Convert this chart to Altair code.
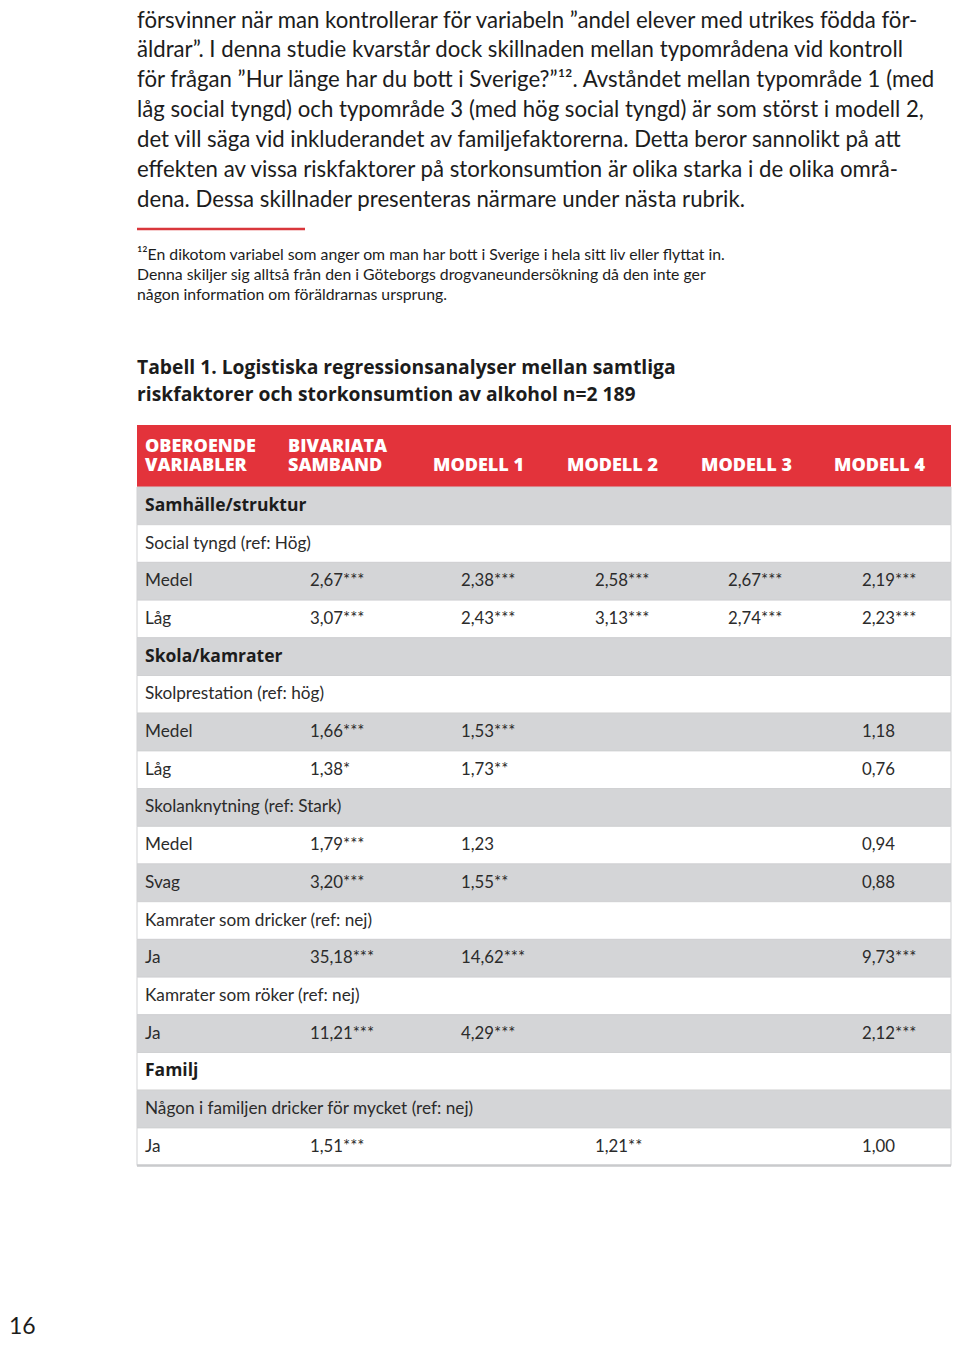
import altair as alt
import pandas as pd

# ---------------- data ----------------
body_lines = [
    "försvinner när man kontrollerar för variabeln ”andel elever med utrikes födda för-",
    "äldrar”. I denna studie kvarstår dock skillnaden mellan typområdena vid kontroll",
    "för frågan ”Hur länge har du bott i Sverige?”¹². Avståndet mellan typområde 1 (med",
    "låg social tyngd) och typområde 3 (med hög social tyngd) är som störst i modell 2,",
    "det vill säga vid inkluderandet av familjefaktorerna. Detta beror sannolikt på att",
    "effekten av vissa riskfaktorer på storkonsumtion är olika starka i de olika områ-",
    "dena. Dessa skillnader presenteras närmare under nästa rubrik.",
]
footnote_lines = [
    "¹²En dikotom variabel som anger om man har bott i Sverige i hela sitt liv eller flyttat in.",
    "Denna skiljer sig alltså från den i Göteborgs drogvaneundersökning då den inte ger",
    "någon information om föräldrarnas ursprung.",
]
title_lines = [
    "Tabell 1. Logistiska regressionsanalyser mellan samtliga",
    "riskfaktorer och storkonsumtion av alkohol n=2 189",
]
header_top = ["OBEROENDE", "BIVARIATA", "", "", "", ""]
header_bottom = ["VARIABLER", "SAMBAND", "MODELL 1", "MODELL 2", "MODELL 3", "MODELL 4"]

row_labels = [
    "Samhälle/struktur", "Social tyngd (ref: Hög)", "Medel", "Låg",
    "Skola/kamrater", "Skolprestation (ref: hög)", "Medel", "Låg",
    "Skolanknytning (ref: Stark)", "Medel", "Svag",
    "Kamrater som dricker (ref: nej)", "Ja",
    "Kamrater som röker (ref: nej)", "Ja",
    "Familj", "Någon i familjen dricker för mycket (ref: nej)", "\u00a0Ja",
]
section_rows = [0, 4, 15]
bivariata = ["", "", "2,67***", "3,07***", "", "", "1,66***", "1,38*", "", "1,79***", "3,20***",
             "", "35,18***", "", "11,21***", "", "", "1,51***"]
modell1 = ["", "", "2,38***", "2,43***", "", "", "1,53***", "1,73**", "", "1,23", "1,55**",
           "", "14,62***", "", "4,29***", "", "", ""]
modell2 = ["", "", "2,58***", "3,13***", "", "", "", "", "", "", "",
           "", "", "", "", "", "", "1,21**"]
modell3 = ["", "", "2,67***", "2,74***", "", "", "", "", "", "", "",
           "", "", "", "", "", "", ""]
modell4 = ["", "", "2,19***", "2,23***", "", "", "1,18", "0,76", "", "0,94", "0,88",
           "", "9,73***", "", "2,12***", "", "", "1,00"]
page_number = ["16"]

# ---------------- layout / style ----------------
W, H = 944, 1331
FONT = "Lato"
BOLD_FONT = "Open Sans"
INK = "#1c1c1c"
TABLE_INK = "#2b2b2b"
RED = "#e3333b"
GRAY = "#d4d5d7"
LEFT = 129
RIGHT = 943
HEAD_X = [137, 280, 425, 559, 693, 826]
CELL_X = [137, 302, 453, 587, 720, 854]


def lines_df(lines):
    return pd.DataFrame({"i": list(range(len(lines))), "t": lines})


def yscale(domain, rng):
    return alt.Scale(domain=domain, range=rng, zero=False, nice=False)


def text_block(lines, rng, x, **kw):
    df = lines_df(lines)
    n = len(lines) - 1
    kw.setdefault("font", FONT)
    return alt.Chart(df).mark_text(align="left", baseline="middle", **kw).encode(
        x=alt.value(x),
        y=alt.Y("i:Q", scale=yscale([0, n], rng), axis=None),
        text="t:N",
    )


layers = []

# body paragraph
layers.append(text_block(body_lines, [12.5, 192], LEFT, fontSize=22.2, color=INK))

# red separator rule
layers.append(alt.Chart(pd.DataFrame({"a": [0]})).mark_rule(color="#d9363b", strokeWidth=2.5).encode(
    x=alt.value(LEFT), x2=alt.value(297), y=alt.value(221)))

# footnote
layers.append(text_block(footnote_lines, [247, 287], LEFT, fontSize=15.8, color=INK))

# title
layers.append(text_block(title_lines, [360, 387], LEFT, font=BOLD_FONT, fontSize=19.3,
                         fontWeight="bold", color=INK))

# header background
layers.append(alt.Chart(pd.DataFrame({"a": [0]})).mark_rect(color=RED).encode(
    x=alt.value(LEFT), x2=alt.value(RIGHT), y=alt.value(417), y2=alt.value(479)))

# header text
hdf = pd.DataFrame({"c": list(range(6)), "top": header_top, "bottom": header_bottom})
for c in range(6):
    sub = hdf[hdf["c"] == c]
    for field, yy in (("top", 438.5), ("bottom", 457.5)):
        layers.append(alt.Chart(sub).mark_text(
            align="left", baseline="middle", font=BOLD_FONT, fontSize=18, fontWeight=800,
            color="white").encode(x=alt.value(HEAD_X[c]), y=alt.value(yy), text=f"{field}:N"))

# table rows
n = len(row_labels)
rows = pd.DataFrame({
    "i": list(range(n)),
    "label": row_labels,
    "section": [i in section_rows for i in range(n)],
    "shade": ["gray" if i % 2 == 0 else "white" for i in range(n)],
    "b": bivariata, "m1": modell1, "m2": modell2, "m3": modell3, "m4": modell4,
})
row_scale = yscale([-0.5, n - 0.5], [479, 479 + 37.7 * n])

layers.append(alt.Chart(rows).transform_calculate(
    lo="datum.i - 0.5", hi="datum.i + 0.5").mark_rect(stroke="#d0d1d3", strokeWidth=1).encode(
    x=alt.value(LEFT), x2=alt.value(RIGHT),
    y=alt.Y("lo:Q", scale=row_scale, axis=None), y2="hi:Q",
    fill=alt.Fill("shade:N", scale=alt.Scale(domain=["gray", "white"], range=[GRAY, "#ffffff"]), legend=None),
))

layers.append(alt.Chart(rows).transform_filter("datum.section").mark_text(
    align="left", baseline="middle", font=BOLD_FONT, fontSize=17.5, fontWeight="bold", color=INK).encode(
    x=alt.value(CELL_X[0]), y=alt.Y("i:Q", scale=row_scale, axis=None), text="label:N"))
layers.append(alt.Chart(rows).transform_filter("!datum.section").mark_text(
    align="left", baseline="middle", font=FONT, fontSize=17.2, color=TABLE_INK).encode(
    x=alt.value(CELL_X[0]), y=alt.Y("i:Q", scale=row_scale, axis=None), text="label:N"))

for k, field in enumerate(["b", "m1", "m2", "m3", "m4"]):
    layers.append(alt.Chart(rows).mark_text(
        align="left", baseline="middle", font=FONT, fontSize=16.8, color=TABLE_INK).encode(
        x=alt.value(CELL_X[k + 1]), y=alt.Y("i:Q", scale=row_scale, axis=None), text=f"{field}:N"))

# bottom border of the table
layers.append(alt.Chart(pd.DataFrame({"a": [0]})).mark_rule(color="#c9cacc", strokeWidth=2.5).encode(
    x=alt.value(LEFT), x2=alt.value(RIGHT), y=alt.value(1157.5)))

# page number
layers.append(alt.Chart(pd.DataFrame({"t": page_number})).mark_text(
    align="left", baseline="bottom", font=FONT, fontSize=23, color=INK).encode(
    x=alt.value(1), y=alt.value(1331), text="t:N"))

chart = alt.layer(*layers).resolve_scale(x="independent", y="independent", fill="independent").properties(
    width=W, height=H, padding=0, autosize=alt.AutoSizeParams(type="none"), background="white"
).configure_view(stroke=None)

chart.save("out.html", embed_options={"renderer": "svg", "actions": False})
